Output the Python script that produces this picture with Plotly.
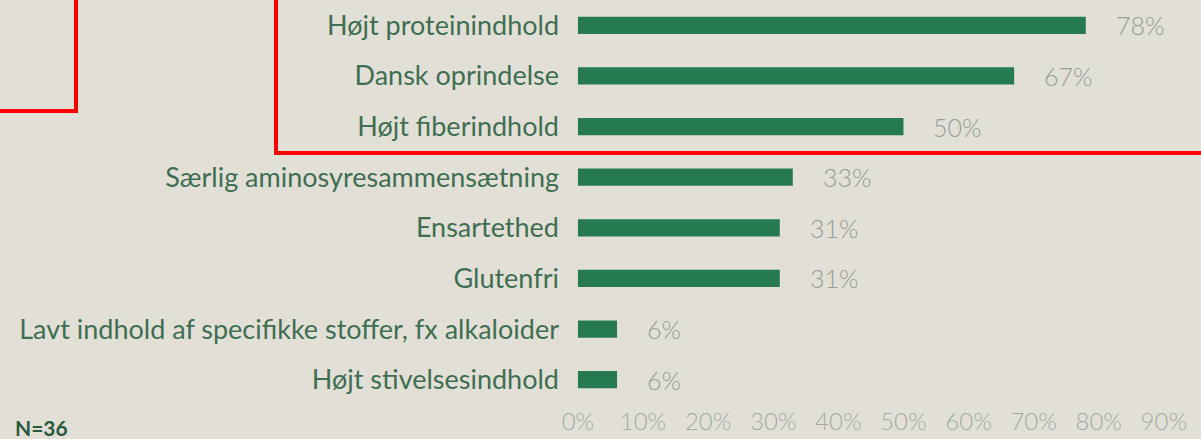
import plotly.graph_objects as go

categories = [
    "Højt proteinindhold",
    "Dansk oprindelse",
    "Højt fiberindhold",
    "Særlig aminosyresammensætning",
    "Ensartethed",
    "Glutenfri",
    "Lavt indhold af specifikke stoffer, fx alkaloider",
    "Højt stivelsesindhold",
]
values = [78, 67, 50, 33, 31, 31, 6, 6]
value_labels = ["78%", "67%", "50%", "33%", "31%", "31%", "6%", "6%"]
tick_vals = [0, 10, 20, 30, 40, 50, 60, 70, 80, 90]
tick_text = ["0%", "10%", "20%", "30%", "40%", "50%", "60%", "70%", "80%", "90%"]
note = "N=36"

BG = "#e2e0d6"
BAR = "#267a50"
W, H = 1201, 439
L, R, T, B = 576, 0, 0, 34
pw, ph = W - L - R, H - T - B

def px_x(px):
    return (px - L) / pw

def px_y(py):
    return (H - B - py) / ph

fig = go.Figure()
fig.add_trace(go.Bar(
    x=values, y=categories, orientation="h",
    marker=dict(color=BAR, line=dict(width=0)),
    width=0.34, hoverinfo="skip",
))

for v, lab, cat in zip(values, value_labels, categories):
    fig.add_annotation(x=v, y=cat, text=lab, showarrow=False, xanchor="left",
                       xshift=28, font=dict(family="Lato, sans-serif", size=25, color="#939c95", weight=300))

fig.add_annotation(xref="paper", yref="paper", x=px_x(13), y=px_y(428), text=note,
                   showarrow=False, xanchor="left", yanchor="middle",
                   font=dict(family="Lato, sans-serif", size=21, color="#2a5a3c", weight="bold"))

# red highlight boxes
fig.add_shape(type="rect", xref="paper", yref="paper",
              x0=px_x(-20), x1=px_x(76), y0=px_y(111), y1=px_y(-20),
              line=dict(color="#ff0000", width=4), fillcolor="rgba(0,0,0,0)")
fig.add_shape(type="rect", xref="paper", yref="paper",
              x0=px_x(276), x1=px_x(1220), y0=px_y(153), y1=px_y(-20),
              line=dict(color="#ff0000", width=4), fillcolor="rgba(0,0,0,0)")

fig.update_layout(
    width=W, height=H,
    margin=dict(l=L, r=R, t=T, b=B, pad=0),
    paper_bgcolor=BG, plot_bgcolor=BG,
    showlegend=False,
    xaxis=dict(range=[-0.3, 95.7], tickvals=tick_vals, ticktext=tick_text,
               showgrid=False, zeroline=False, showline=False, ticks="",
               tickfont=dict(family="Lato, sans-serif", size=24, color="#a3aba5", weight=300)),
    yaxis=dict(autorange="reversed", showgrid=False, zeroline=False, showline=False,
               ticks="", ticklabelstandoff=16,
               tickfont=dict(family="Lato, sans-serif", size=27, color="#3f6e52")),
)

fig.write_html("out.html", config={"displayModeBar": False},
               post_script="document.body.style.margin='0px';document.body.style.overflow='hidden';")
